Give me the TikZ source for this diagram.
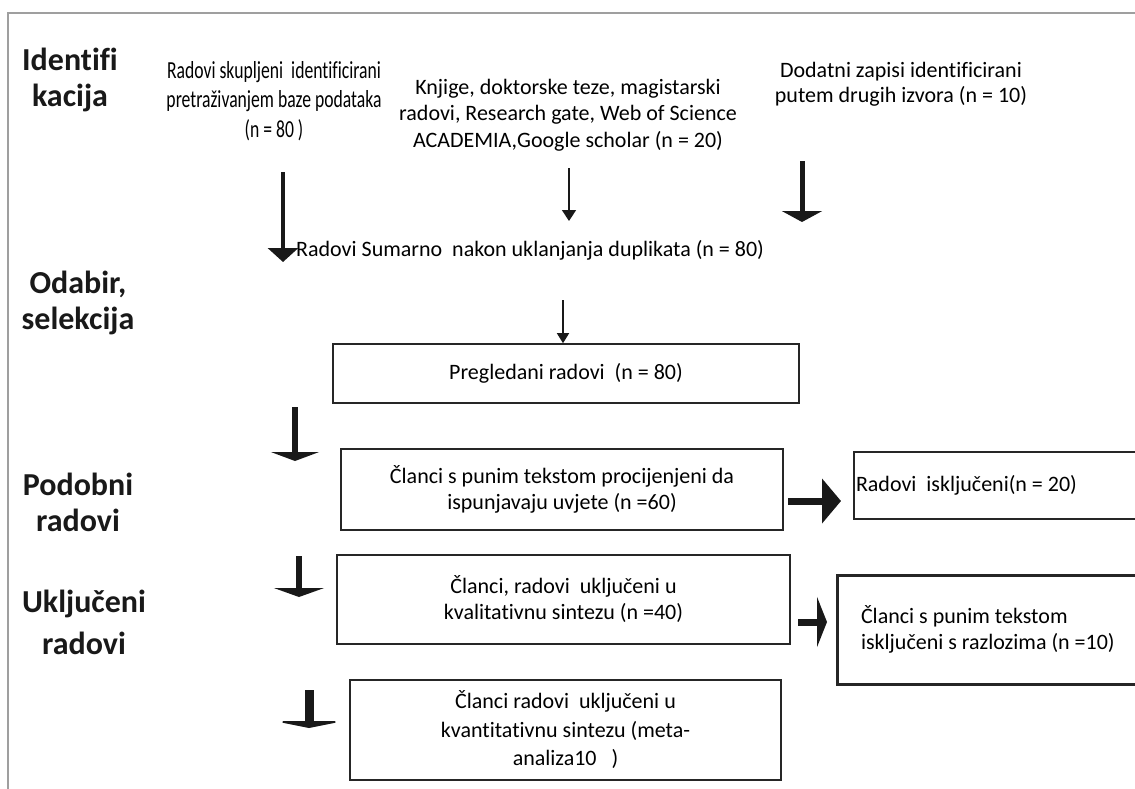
\documentclass[tikz,border=0pt]{standalone}
\usepackage{fontspec}
\setmainfont[Ligatures={NoCommon}]{Carlito}
\newfontfamily\narrowfont[FakeStretch=0.72, Ligatures={NoCommon}]{Carlito}
\usetikzlibrary{arrows.meta,positioning}

\begin{document}
\begin{tikzpicture}[
    x=1pt, y=-1pt,
    box/.style={rectangle, draw=black!85, line width=1.6pt, align=center, inner sep=0pt, font=\fontsize{22}{26}\selectfont},
    phase/.style={align=center, font=\fontsize{32}{36}\selectfont\bfseries, text=black!90},
    txt/.style={align=center, font=\fontsize{22}{26.5}\selectfont},
    arrow/.style n args={3}{line width=#1, draw=black!90, -{Triangle[width=#2, length=#3]}}
]
\clip (0,0) rectangle (1135,788);

% frame
\draw[gray!75, line width=2.5pt] (1140,13) -- (8,13) -- (8,795);

% phase labels
\node[phase] (identifikacija) at (70,80) {Identifi\\kacija};
\node[phase] (odabir) at (78,303) {Odabir,\\selekcija};
\node[phase] (podobni) at (78,502) {Podobni\\radovi};
\node[phase, font=\fontsize{32}{42}\selectfont\bfseries] (ukljuceni) at (84,622) {Uključeni\\radovi};

% sources
\node[txt, font=\fontsize{24.5}{29.5}\selectfont\narrowfont] (baza) at (274,101) {Radovi skupljeni\, identificirani\\pretraživanjem baze podataka\\(n = 80 )};
\node[txt] (knjige) at (568,115) {Knjige, doktorske teze, magistarski\\radovi, Research gate, Web of Science\\ACADEMIA,Google scholar (n = 20)};
\node[txt, font=\fontsize{22}{25}\selectfont] (dodatni) at (901,84) {Dodatni zapisi identificirani\\putem drugih izvora (n = 10)};
\node[txt, anchor=west, inner sep=0pt] (sumarno) at (296,250) {Radovi Sumarno\ \ nakon uklanjanja duplikata (n = 80)};

% boxes
\node[box, minimum width=466, minimum height=59] (pregledani) at (566,373.5) {Pregledani radovi\ \ (n = 80)};
\node[box, minimum width=442, minimum height=81] (procijenjeni) at (562,489.5) {Članci s punim tekstom procijenjeni da\\ispunjavaju uvjete (n =60)};
\node[box, minimum width=291, minimum height=67, text width=287, inner xsep=2pt, align=flush left] (iskljuceni) at (999.5,485.5) {Radovi\ \ isključeni(n = 20)};
\node[box, minimum width=453, minimum height=89] (kvalitativna) at (563.5,599.5) {Članci, radovi\ \ uključeni u\\kvalitativnu sintezu (n =40)};
\node[box, line width=3pt, minimum width=308, minimum height=109, text width=260, inner xsep=24pt, align=flush left] (razlozi) at (991,629.5) {Članci s punim tekstom\\isključeni s razlozima (n =10)};
\node[box, font=\fontsize{22}{28.5}\selectfont, minimum width=431, minimum height=100] (kvantitativna) at (565.5,730) {Članci radovi\ \ uključeni u\\kvantitativnu sintezu (meta-\\analiza10\ \ \ )};

% arrow ends
\coordinate (a1) at (283,172);  \coordinate (b1) at (283,262);
\coordinate (a2) at (569,168);  \coordinate (b2) at (569,221);
\coordinate (a3) at (802,161);  \coordinate (b3) at (802,222);
\coordinate (a4) at (563,300);
\coordinate (a5) at (295,407);  \coordinate (b5) at (295,461);
\coordinate (a6) at (299,556);  \coordinate (b6) at (299,597);
\coordinate (a7) at (309,690);  \coordinate (b7) at (309,728);
\coordinate (a8) at (788,501);  \coordinate (b8) at (841,501);
\coordinate (a9) at (798,622);  \coordinate (b9) at (827,622);

\draw[arrow={4pt}{30pt}{14pt}] (a1) -- (b1);
\draw[arrow={1.5pt}{14pt}{11pt}] (a2) -- (b2);
\draw[arrow={5pt}{40pt}{11pt}] (a3) -- (b3);
\draw[arrow={1.5pt}{12pt}{10pt}] (a4) -- (a4 |- pregledani.north);
\draw[arrow={6pt}{48pt}{9pt}] (a5) -- (b5);
\draw[arrow={6pt}{50pt}{9pt}] (a6) -- (b6);
\draw[arrow={9pt}{70pt}{7pt}] (a7) -- (b7);
\draw[arrow={7pt}{44pt}{19pt}] (a8) -- (b8);
\draw[arrow={7pt}{50pt}{10pt}] (a9) -- (b9);

\end{tikzpicture}
\end{document}
